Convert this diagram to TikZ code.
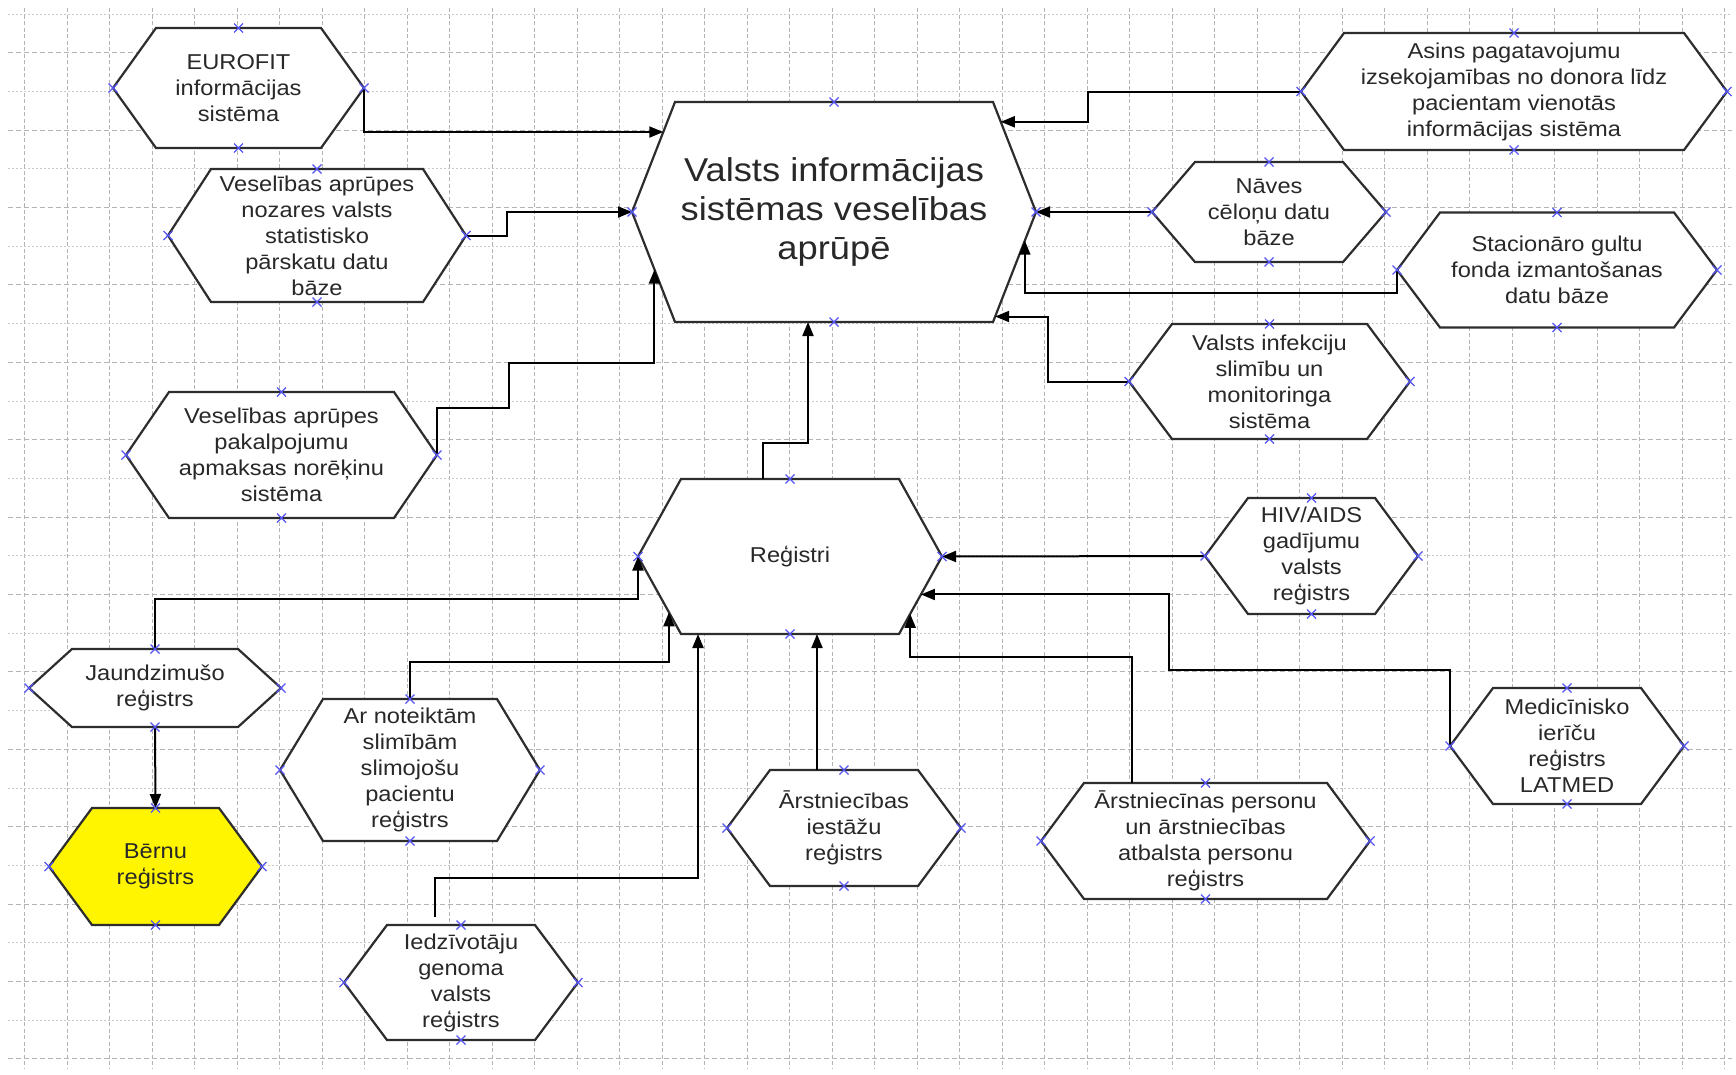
\documentclass[tikz,border=0pt]{standalone}
\usepackage{fontspec}
\setmainfont{Liberation Sans}[FakeStretch=1.1]
\usetikzlibrary{arrows.meta,calc}
\definecolor{xblue}{RGB}{85,85,245}
\definecolor{hexline}{RGB}{45,45,45}
\definecolor{txt}{RGB}{40,40,40}
\definecolor{gridc}{RGB}{180,180,180}
\definecolor{gridl}{RGB}{200,200,200}
\definecolor{byellow}{RGB}{255,245,0}

\newcommand\hexnode[8]{%
  \coordinate (#1-l) at ({#2-#4},{#3});
  \coordinate (#1-r) at ({#2+#4},{#3});
  \coordinate (#1-tl) at ({#2-#4+43},{#3-#5});
  \coordinate (#1-tr) at ({#2+#4-43},{#3-#5});
  \coordinate (#1-bl) at ({#2-#4+43},{#3+#5});
  \coordinate (#1-br) at ({#2+#4-43},{#3+#5});
  \coordinate (#1-t) at ({#2},{#3-#5});
  \coordinate (#1-b) at ({#2},{#3+#5});
  \filldraw[hexshape,fill=#6] (#1-l) -- (#1-tl) -- (#1-tr) -- (#1-r) -- (#1-br) -- (#1-bl) -- cycle;
  \node[hextext,#7] (#1) at (#2,#3) {#8};
}
\newcommand\xmk[1]{%
  \draw[xmark] ($(#1)+(-4.5,-4.5)$) -- ($(#1)+(4.5,4.5)$) ($(#1)+(-4.5,4.5)$) -- ($(#1)+(4.5,-4.5)$);
}

\begin{document}
\begin{tikzpicture}[x=1pt,y=-1pt,
  hexshape/.style={draw=hexline, line width=2.2pt, line join=miter},
  hextext/.style={text=txt, align=center, inner sep=0pt, font=\fontsize{21.5}{26}\selectfont},
  bigtext/.style={font=\fontsize{33}{39}\selectfont},
  conn/.style={draw=black, line width=2pt, -{Triangle[length=14pt,width=11pt]}},
  xmark/.style={draw=xblue, line width=1.3pt},
  gridv/.style={draw=gridc, line width=0.9pt, dash pattern=on 4pt off 2.5pt},
  gridh/.style={draw=gridc, line width=1pt, dash pattern=on 5pt off 3pt},
  gridhl/.style={draw=gridl, line width=0.9pt, dash pattern=on 2pt off 2pt}]
\fill[white] (0,0) rectangle (1736,1074);
\useasboundingbox (0,0) rectangle (1736,1074);

% grid
\foreach \k in {0,...,40} {
  \pgfmathsetmacro\gx{24.6+42.5*\k}
  \draw[gridv] (\gx,8) -- (\gx,1068);
}
\foreach \k in {1,3,...,27} {
  \pgfmathsetmacro\gy{14+38.7*\k}
  \draw[gridh] (8,\gy) -- (1732,\gy);
}
\foreach \k in {0,2,...,26} {
  \pgfmathsetmacro\gy{14+38.7*\k}
  \draw[gridhl] (8,\gy) -- (1732,\gy);
}

% hexagons
\hexnode{eu}{238.5}{88}{125.5}{60}{white}{}{EUROFIT\\informācijas\\sistēma}
\hexnode{stat}{317}{235.5}{149}{66.5}{white}{}{Veselības aprūpes\\nozares valsts\\statistisko\\pārskatu datu\\bāze}
\hexnode{main}{834}{212}{202}{110}{white}{bigtext}{Valsts informācijas\\sistēmas veselības\\aprūpē}
\hexnode{asins}{1514}{91.5}{213}{58.5}{white}{}{Asins pagatavojumu\\izsekojamības no donora līdz\\pacientam vienotās\\informācijas sistēma}
\hexnode{naves}{1269}{212}{117}{50}{white}{}{Nāves\\cēloņu datu\\bāze}
\hexnode{stac}{1557}{270}{160}{57.5}{white}{}{Stacionāro gultu\\fonda izmantošanas\\datu bāze}
\hexnode{inf}{1269.5}{381.5}{140.5}{57.5}{white}{}{Valsts infekciju\\slimību un\\monitoringa\\sistēma}
\hexnode{norek}{281.5}{455}{155.5}{63}{white}{}{Veselības aprūpes\\pakalpojumu\\apmaksas norēķinu\\sistēma}
\hexnode{reg}{790}{556.5}{152}{77.5}{white}{}{Reģistri}
\hexnode{hiv}{1311.5}{556}{106.5}{58}{white}{}{HIV/AIDS\\gadījumu\\valsts\\reģistrs}
\hexnode{latmed}{1567}{746}{117}{58}{white}{}{Medicīnisko\\ierīču\\reģistrs\\LATMED}
\hexnode{jaun}{155}{688}{126}{39}{white}{}{Jaundzimušo\\reģistrs}
\hexnode{bernu}{155.5}{866.5}{106.5}{58.5}{byellow}{}{Bērnu\\reģistrs}
\hexnode{arnot}{410}{770}{130}{71}{white}{}{Ar noteiktām\\slimībām\\slimojošu\\pacientu\\reģistrs}
\hexnode{genoma}{461}{982.5}{117}{57.5}{white}{}{Iedzīvotāju\\genoma\\valsts\\reģistrs}
\hexnode{iestazu}{844}{828}{117}{58}{white}{}{Ārstniecības\\iestāžu\\reģistrs}
\hexnode{personu}{1205.5}{841}{164.5}{58}{white}{}{Ārstniecīnas personu\\un ārstniecības\\atbalsta personu\\reģistrs}

% connectors
\draw[conn] (eu-r) |- ($(main-l)!0.727!(main-tl)$);
\draw[conn] (stat-r) -- ++(41,0) |- (main-l);
\draw[conn] (norek-r) -- ++(0,-47) -- ++(72,0) -- ++(0,-45) -| ($(main-l)!0.523!(main-bl)$);
\draw[conn] ($(reg-t)+(-27,0)$) -- ++(0,-36) -| ($(main-b)+(-26,0)$);
\draw[conn] (asins-l) -- ++(-213,0) |- ($(main-tr)!0.18!(main-r)$);
\draw[conn] (naves-l) -- (main-r);
\draw[conn] (stac-l) -- ++(0,23) -| ($(main-r)!0.26!(main-br)$);
\draw[conn] (inf-l) -- ++(-81,0) |- ($(main-r)!0.95!(main-br)$);
\draw[conn] (hiv-l) -- (reg-r);
\draw[conn] (latmed-l) -- ++(0,-76) -- ++(-281,0) |- ($(reg-r)!0.49!(reg-br)$);
\draw[conn] ($(personu-t)+(-74,0)$) -- ++(0,-126) -| ($(reg-r)!0.74!(reg-br)$);
\coordinate (iz) at ($(iestazu-t)+(-27,0)$);
\draw[conn] (iz) -- (iz |- reg-b);
\draw[conn] ($(genoma-t)+(-26,-8)$) -- ++(0,-39) -| ($(reg-bl)+(17,0)$);
\draw[conn] (arnot-t) -- ++(0,-37) -| ($(reg-l)!0.72!(reg-bl)$);
\draw[conn] (jaun-t) -- ++(0,-50) -| (reg-l);
\draw[conn] (jaun-b) -- (bernu-t);

% markers
\foreach \nm in {eu,stat,main,asins,naves,stac,inf,norek,reg,hiv,latmed,jaun,bernu,arnot,genoma,iestazu,personu} {
  \foreach \an in {l,r,t,b} {
    \xmk{\nm-\an}
  }
}
\end{tikzpicture}
\end{document}
